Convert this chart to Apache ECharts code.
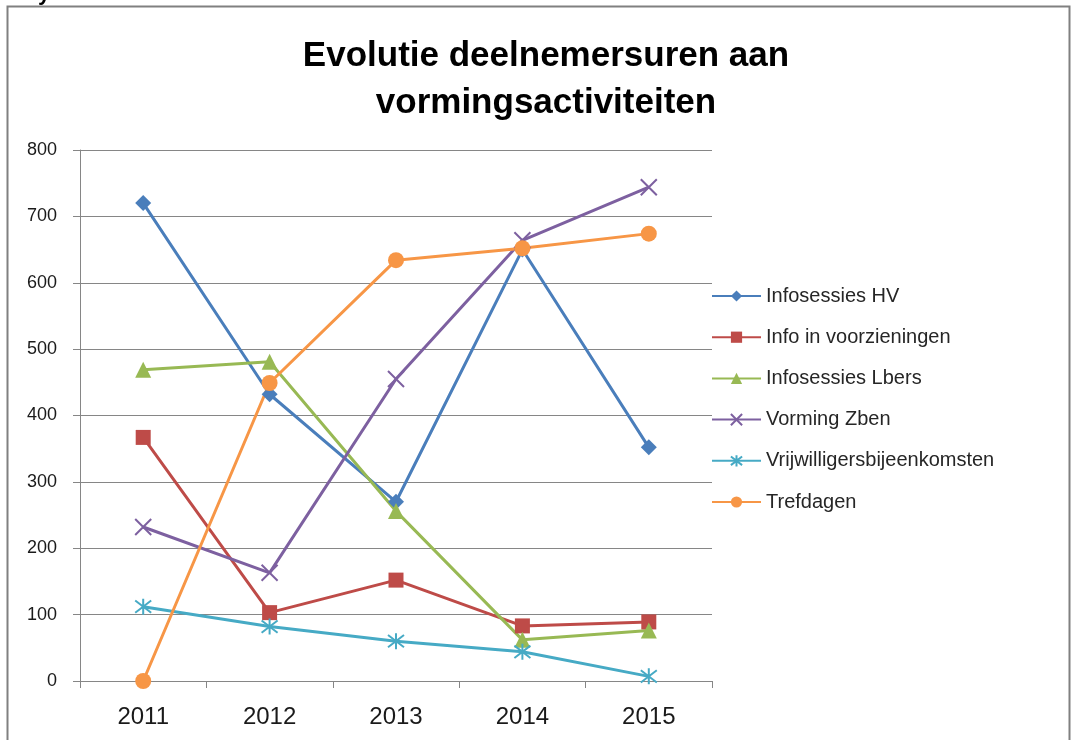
<!DOCTYPE html>
<html>
<head>
<meta charset="utf-8">
<script src="https://cdn.jsdelivr.net/npm/echarts@6/dist/echarts.min.js"></script>
<style>html,body{margin:0;padding:0;background:#fff;}#c{width:1075px;height:740px;}</style>
</head>
<body>
<div id="c"></div>
<script>
const categories = ['2011', '2012', '2013', '2014', '2015'];
const infosessiesHV = [720, 432, 270, 650, 352];
const infoInVoorzieningen = [367, 103, 152, 83, 89];
const infosessiesLbers = [469, 481, 256, 62, 76];
const vormingZben = [232, 163, 455, 664, 744];
const vrijwilligers = [112, 82, 60, 44, 7];
const trefdagen = [0, 449, 634, 652, 674];
const yTicks = [0, 100, 200, 300, 400, 500, 600, 700, 800];

const FONT = 'Liberation Sans, Arial, sans-serif';
const xPath = 'path://M0,0L10,10M10,0L0,10';
const starPath = 'path://M0,0L10,10M10,0L0,10M5,-1.5L5,11.5';

function mk(name, data, color, symbol, size, extra) {
  return Object.assign({
    name: name, type: 'line', data: data,
    symbol: symbol, symbolSize: size,
    lineStyle: { color: color, width: 3 },
    itemStyle: { color: color, borderColor: color, borderWidth: 0 },
    emphasis: { disabled: true },
    animation: false
  }, extra || {});
}

const series = [
  mk('Infosessies HV', infosessiesHV, '#4A7EBB', 'diamond', 16),
  mk('Info in voorzieningen', infoInVoorzieningen, '#BE4B48', 'rect', 15),
  mk('Infosessies Lbers', infosessiesLbers, '#98B954', 'triangle', 16),
  mk('Vorming Zben', vormingZben, '#7D60A0', xPath, 16, { itemStyle: { color: 'rgba(0,0,0,0)', borderColor: '#7D60A0', borderWidth: 2 } }),
  mk('Vrijwilligersbijeenkomsten', vrijwilligers, '#46AAC5', starPath, 16, { itemStyle: { color: 'rgba(0,0,0,0)', borderColor: '#46AAC5', borderWidth: 2 } }),
  mk('Trefdagen', trefdagen, '#F79646', 'circle', 16)
];

const chart = echarts.init(document.getElementById('c'), null, { renderer: 'canvas' });
chart.setOption({
  backgroundColor: '#fff',
  animation: false,
  title: {
    text: 'Evolutie deelnemersuren aan\nvormingsactiviteiten',
    left: 541, top: 28, textAlign: 'center',
    textStyle: { fontFamily: FONT, fontWeight: 'bold', fontSize: 35, lineHeight: 47, color: '#000' }
  },
  legend: {
    orient: 'vertical', left: 706, top: 281,
    itemWidth: 49, itemHeight: 14, itemGap: 21.2,
    textStyle: { fontFamily: FONT, fontSize: 20, color: '#262626' },
    data: series.map(s => s.name)
  },
  grid: { left: 80, right: 363, top: 150, bottom: 59, containLabel: false },
  xAxis: {
    type: 'category', data: categories, boundaryGap: true,
    axisLine: { lineStyle: { color: '#868686', width: 1 } },
    axisTick: { show: true, alignWithLabel: false, length: 7, lineStyle: { color: '#868686' } },
    axisLabel: { fontFamily: FONT, fontSize: 24, color: '#1a1a1a', margin: 24 },
    splitLine: { show: false }
  },
  yAxis: {
    type: 'value', min: 0, max: 800, interval: 100,
    axisLine: { show: true, lineStyle: { color: '#868686', width: 1 } },
    axisTick: { show: true, length: 7, lineStyle: { color: '#868686' } },
    axisLabel: { fontFamily: FONT, fontSize: 18, color: '#1a1a1a', margin: 23,
      formatter: v => yTicks.indexOf(v) >= 0 ? String(v) : '' },
    splitLine: { show: true, lineStyle: { color: '#868686', width: 1 } }
  },
  graphic: [
    { type: 'rect', shape: { x: 7.5, y: 6.5, width: 1062, height: 760 }, style: { fill: 'none', stroke: '#808080', lineWidth: 2 }, silent: true, z: -1 },
    { type: 'text', x: 38, y: 5, style: { text: 'y', font: 'bold 22px Liberation Sans, Arial, sans-serif', fill: '#000', verticalAlign: 'bottom', align: 'left' }, silent: true }
  ],
  series: series
});
</script>
</body>
</html>
